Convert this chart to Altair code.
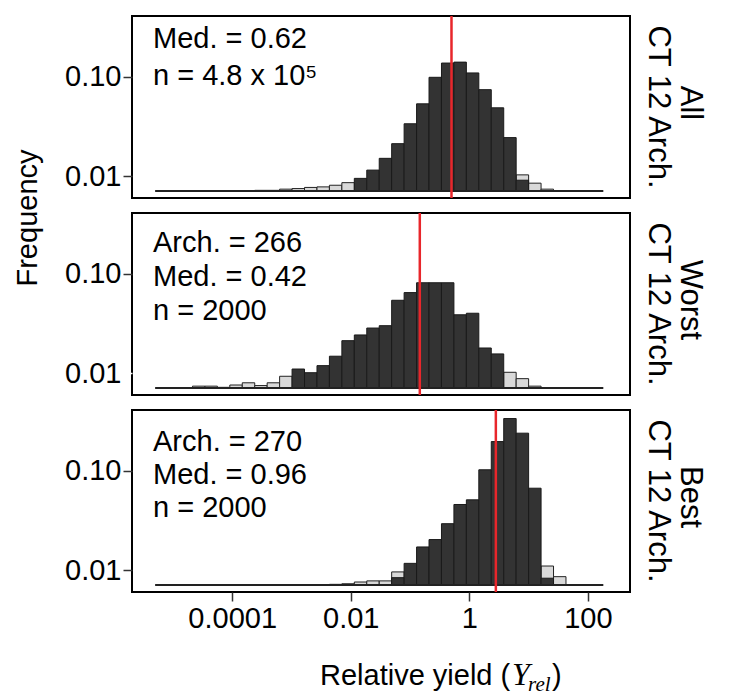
import altair as alt
import pandas as pd

# ---------------- data ----------------
BIN_START_LOG = -5.30     # log10 of the left edge of the first histogram bin
BIN_WIDTH_LOG = 0.21      # bin width in log10 units
N_BINS = 36
BASE_FREQ = 0.0071        # floor from which the bars are drawn

X_DOMAIN = [10 ** -5.69, 10 ** 2.71]
Y_DOMAIN = [0.00603, 0.407]
x_tick_values = [0.0001, 0.01, 1, 100]
y_tick_values = [0.01, 0.1]

# panel "All"
all_light_bins = [8, 9, 10, 11, 12, 13, 14, 15, 29, 30, 31]
all_light_vals = [0.0072, 0.0072, 0.0074, 0.0075, 0.0077, 0.0078, 0.0081, 0.0086, 0.0103, 0.0085, 0.0074]
all_dark_bins = [16, 17, 18, 19, 20, 21, 22, 23, 24, 25, 26, 27, 28, 29]
all_dark_vals = [0.0095, 0.0115, 0.0151, 0.0212, 0.0336, 0.0533, 0.0985, 0.137, 0.140, 0.109, 0.074, 0.0486, 0.0244, 0.0091]
all_red = 0.50
all_text = ["Med. = 0.62", "n = 4.8 x 10\u2075"]

# panel "Worst"
worst_light_bins = [3, 4, 5, 6, 7, 8, 9, 10, 28, 29, 30]
worst_light_vals = [0.0074, 0.0074, 0.0072, 0.0076, 0.0080, 0.0075, 0.0080, 0.0093, 0.0102, 0.0088, 0.0074]
worst_dark_bins = [11, 12, 13, 14, 15, 16, 17, 18, 19, 20, 21, 22, 23, 24, 25, 26, 27]
worst_dark_vals = [0.0110, 0.0101, 0.0119, 0.0148, 0.0212, 0.0242, 0.0284, 0.0300, 0.054, 0.0645, 0.081, 0.081, 0.081, 0.0386, 0.0400, 0.0179, 0.0156]
worst_red = 0.146
worst_text = ["Arch. = 266", "Med. = 0.42", "n = 2000"]

# panel "Best"
best_light_bins = [14, 15, 16, 17, 18, 19, 31, 32]
best_light_vals = [0.0072, 0.0073, 0.0076, 0.0078, 0.0078, 0.0096, 0.0110, 0.0086]
best_dark_bins = [19, 20, 21, 22, 23, 24, 25, 26, 27, 28, 29, 30, 31]
best_dark_vals = [0.0084, 0.0117, 0.0171, 0.0203, 0.0293, 0.0457, 0.0509, 0.102, 0.196, 0.334, 0.238, 0.0666, 0.0083]
best_red = 2.8
best_text = ["Arch. = 270", "Med. = 0.96", "n = 2000"]

row_labels = [("All", "CT 12 Arch."), ("Worst", "CT 12 Arch."), ("Best", "CT 12 Arch.")]

# ---------------- layout / style ----------------
W, H = 498, 182
FONT = "Liberation Sans"
FS = 29
FS_LAB = 31
DARK = "#333333"
LIGHT = "#d9d9d9"
RED = "#e8262b"


def bars(bins, vals):
    lo = [BIN_START_LOG + BIN_WIDTH_LOG * b for b in bins]
    return pd.DataFrame({
        "x": [10 ** l for l in lo],
        "x2": [10 ** (l + BIN_WIDTH_LOG) for l in lo],
        "y": vals,
        "y0": [BASE_FREQ] * len(vals),
    })


def one(**kw):
    return alt.Chart(pd.DataFrame({"k": [0]})).mark_text(color="black", **kw)


def panel(light_b, light_v, dark_b, dark_v, red, lines, ann_y, ann_lh, labels,
          show_x=False, hide_low_tick=False, ylabel=False):
    xscale = alt.Scale(type="log", domain=X_DOMAIN, nice=False)
    yscale = alt.Scale(type="log", domain=Y_DOMAIN, nice=False)
    if show_x:
        xaxis = alt.Axis(values=x_tick_values, format="~g", title=None, domain=False, grid=False,
                         labelFontSize=FS, labelFont=FONT, labelColor="black",
                         tickSize=9, tickWidth=1.5, tickColor="#333", labelPadding=3, labelFlush=False)
    else:
        xaxis = None
    tick_color = "#333"
    if hide_low_tick:
        tick_color = {"condition": {"test": "datum.value < 0.05", "value": "white"}, "value": "#333"}
    yaxis = alt.Axis(values=y_tick_values, format=".2f", title=None, domain=False, grid=False,
                     labelFontSize=FS, labelFont=FONT, labelColor="black",
                     tickSize=9, tickWidth=1.5, tickColor=tick_color, labelPadding=2)

    def enc(ch):
        return ch.encode(
            x=alt.X("x:Q", scale=xscale, axis=xaxis),
            x2="x2:Q",
            y=alt.Y("y:Q", scale=yscale, axis=yaxis),
            y2="y0:Q",
        )

    light = enc(alt.Chart(bars(light_b, light_v)).mark_rect(fill=LIGHT, stroke="#222", strokeWidth=1))
    dark = enc(alt.Chart(bars(dark_b, dark_v)).mark_rect(fill=DARK, stroke="#1a1a1a", strokeWidth=1))

    base_df = pd.DataFrame({
        "x": [10 ** BIN_START_LOG],
        "x2": [10 ** (BIN_START_LOG + N_BINS * BIN_WIDTH_LOG)],
        "y": [BASE_FREQ],
    })
    baseline = alt.Chart(base_df).mark_rule(color="#222", strokeWidth=2).encode(
        x=alt.X("x:Q", scale=xscale, axis=xaxis),
        x2="x2:Q",
        y=alt.Y("y:Q", scale=yscale, axis=yaxis),
    )
    redline = alt.Chart(pd.DataFrame({"x": [red]})).mark_rule(color=RED, strokeWidth=2.5).encode(
        x=alt.X("x:Q", scale=xscale, axis=xaxis),
    )
    ann = one(text=lines, align="left", baseline="alphabetic", font=FONT, fontSize=FS,
              lineHeight=ann_lh).encode(x=alt.value(21), y=alt.value(ann_y))

    lab_outer = one(text=labels[0], angle=90, align="center", baseline="middle", font=FONT,
                    fontSize=FS_LAB).encode(x=alt.value(W + 60), y=alt.value(H / 2 - 4))
    lab_inner = one(text=labels[1], angle=90, align="center", baseline="middle", font=FONT,
                    fontSize=FS_LAB).encode(x=alt.value(W + 28), y=alt.value(H / 2))

    layers = [light, dark, baseline, redline, ann, lab_outer, lab_inner]

    if ylabel:
        layers.append(one(text="Frequency", angle=270, align="center", baseline="middle", font=FONT,
                          fontSize=FS).encode(x=alt.value(-104), y=alt.value(5)))

    if show_x:
        ty = H + 93
        x0 = 188
        layers += [
            one(text="Relative yield (", align="left", baseline="alphabetic", font=FONT,
                fontSize=FS).encode(x=alt.value(x0), y=alt.value(ty)),
            one(text="Y", align="left", baseline="alphabetic", font="Liberation Serif",
                fontStyle="italic", fontSize=32).encode(x=alt.value(x0 + 192), y=alt.value(ty)),
            one(text="rel", align="left", baseline="alphabetic", font="Liberation Serif",
                fontStyle="italic", fontSize=21).encode(x=alt.value(x0 + 208), y=alt.value(ty + 6)),
            one(text=")", align="left", baseline="alphabetic", font=FONT,
                fontSize=FS).encode(x=alt.value(x0 + 232), y=alt.value(ty)),
        ]

    return alt.layer(*layers).properties(width=W, height=H)


p1 = panel(all_light_bins, all_light_vals, all_dark_bins, all_dark_vals, all_red,
           all_text, 32, 37, row_labels[0])
p2 = panel(worst_light_bins, worst_light_vals, worst_dark_bins, worst_dark_vals, worst_red,
           worst_text, 39, 34, row_labels[1], hide_low_tick=True, ylabel=True)
p3 = panel(best_light_bins, best_light_vals, best_dark_bins, best_dark_vals, best_red,
           best_text, 41, 33, row_labels[2], show_x=True)

chart = alt.vconcat(p1, p2, p3, spacing=15, bounds="flush").properties(
    background="white"
).configure_view(
    stroke="black", strokeWidth=2
)

chart.save("out.html", embed_options={"renderer": "svg", "actions": False})
